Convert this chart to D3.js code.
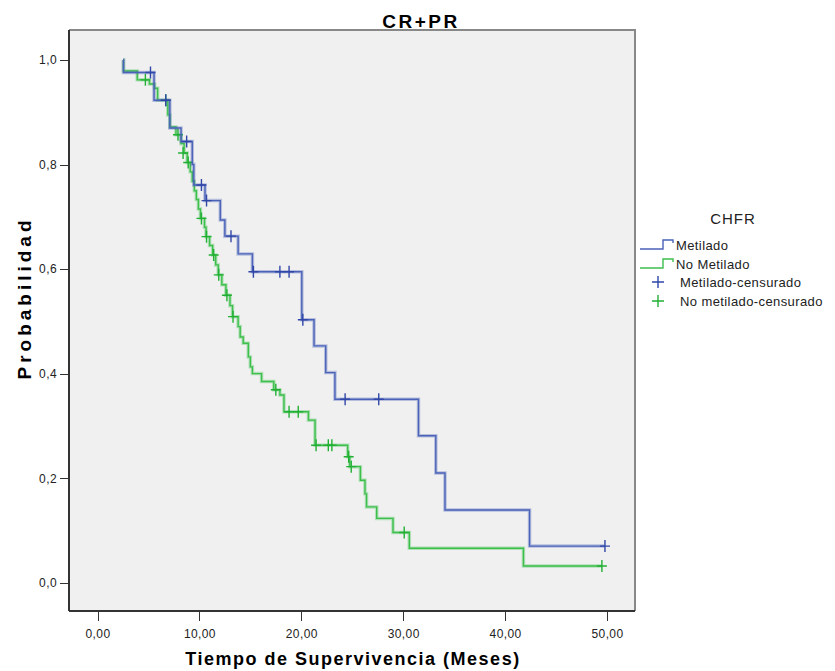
<!DOCTYPE html>
<html lang="es">
<head>
<meta charset="utf-8">
<title>CR+PR</title>
<script src="https://cdn.jsdelivr.net/npm/d3@7"></script>
<style>
  html, body { margin: 0; padding: 0; background: #fff; }
  text { font-family: "Liberation Sans", Arial, sans-serif; }
  .axis path, .axis line { stroke: #333; shape-rendering: crispEdges; }
  .axis text { font-size: 12px; fill: #222; letter-spacing: 0.4px; }
</style>
</head>
<body>
<script>
// tick labels
var xTicks = [0, 10, 20, 30, 40, 50];
var yTicks = [0, 0.2, 0.4, 0.6, 0.8, 1.0];

// Metilado: [tiempo, supervivencia tras el evento]
var metilado = [
  [2.5, 1.0], [2.55, 0.976], [5.55, 0.923], [7.1, 0.870], [8.2, 0.844],
  [9.3, 0.80], [9.45, 0.761], [10.55, 0.731], [12.05, 0.694], [12.5, 0.663],
  [13.8, 0.629], [15.2, 0.595], [20.05, 0.503], [21.25, 0.453], [22.4, 0.402],
  [23.3, 0.351], [31.5, 0.281], [33.2, 0.210], [34.1, 0.139], [42.4, 0.070],
  [49.8, 0.070]
];
var metiladoCens = [
  [5.2, 0.976], [6.7, 0.923], [8.75, 0.844], [10.2, 0.761], [10.7, 0.731],
  [13.1, 0.663], [15.3, 0.595], [17.9, 0.595], [18.8, 0.595], [20.15, 0.503],
  [24.3, 0.351], [27.6, 0.351], [49.8, 0.070]
];

// No Metilado
var noMetilado = [
  [2.5, 1.0], [2.55, 0.979], [3.9, 0.962], [5.1, 0.954], [5.6, 0.946],
  [5.9, 0.923], [6.9, 0.895], [7.1, 0.872], [7.7, 0.857], [8.2, 0.840],
  [8.5, 0.822], [8.8, 0.804], [9.1, 0.786], [9.3, 0.768], [9.5, 0.750],
  [9.7, 0.733], [9.9, 0.715], [10.1, 0.697], [10.5, 0.680], [10.65, 0.662],
  [11.0, 0.645], [11.3, 0.627], [11.6, 0.608], [11.85, 0.589], [12.2, 0.570],
  [12.6, 0.550], [13.0, 0.530], [13.25, 0.509], [13.8, 0.490], [14.0, 0.470],
  [14.3, 0.458], [14.8, 0.432], [15.0, 0.413], [15.2, 0.400], [16.1, 0.385],
  [17.3, 0.369], [17.9, 0.359], [18.3, 0.327], [20.7, 0.311], [21.35, 0.263],
  [24.55, 0.241], [24.75, 0.222], [25.8, 0.196], [26.25, 0.170], [26.4, 0.145],
  [27.4, 0.123], [29.0, 0.096], [30.6, 0.066], [41.8, 0.032], [49.5, 0.032]
];
var noMetiladoCens = [
  [4.7, 0.962], [6.7, 0.923], [7.9, 0.857], [8.4, 0.822], [8.9, 0.804],
  [10.2, 0.697], [10.7, 0.662], [11.4, 0.627], [11.9, 0.589], [12.7, 0.550],
  [13.3, 0.509], [17.5, 0.369], [18.8, 0.327], [19.7, 0.327], [21.45, 0.263],
  [22.65, 0.263], [23.0, 0.263], [24.65, 0.241], [24.9, 0.222], [30.1, 0.096],
  [49.5, 0.032]
];

var blue = "#4a62b8", blueDark = "#3047a8";
var green = "#3dbf4c", greenDark = "#22b034";

var W = 835, H = 671;
var frame = {left: 69, top: 30, right: 635, bottom: 611};

var x = d3.scaleLinear().domain([0, 50]).range([97.5, 607]);
var y = d3.scaleLinear().domain([0, 1]).range([582.7, 60]);

var fmt = function(d) { return d3.format(".2f")(d).replace(".", ","); };
var fmtY = function(d) { return d3.format(".1f")(d).replace(".", ","); };

var svg = d3.select("body").append("svg").attr("width", W).attr("height", H);

// plot frame
svg.append("rect")
  .attr("x", frame.left).attr("y", frame.top)
  .attr("width", frame.right - frame.left).attr("height", frame.bottom - frame.top)
  .attr("fill", "#f0f0f0");
svg.append("line").attr("x1", frame.left).attr("x2", frame.right + 1)
  .attr("y1", frame.top).attr("y2", frame.top)
  .attr("stroke", "#888").attr("stroke-width", 2);
svg.append("line").attr("x1", frame.right).attr("x2", frame.right)
  .attr("y1", frame.top).attr("y2", frame.bottom)
  .attr("stroke", "#888").attr("stroke-width", 2);

var xAxis = d3.axisBottom(x).tickValues(xTicks).tickFormat(fmt).tickSize(10).tickSizeOuter(0);
var yAxis = d3.axisLeft(y).tickValues(yTicks).tickFormat(fmtY).tickSize(9).tickSizeOuter(0);

var gx = svg.append("g").attr("class", "axis")
  .attr("transform", "translate(0," + frame.bottom + ")")
  .call(xAxis);
gx.select(".domain").attr("d", "M" + frame.left + ",0H" + frame.right).attr("stroke-width", 2);
gx.selectAll("text").attr("dy", "1.2em");

var gy = svg.append("g").attr("class", "axis")
  .attr("transform", "translate(" + frame.left + ",0)")
  .call(yAxis);
gy.select(".domain").attr("d", "M0," + frame.top + "V" + frame.bottom).attr("stroke-width", 2);
gy.selectAll("text").attr("x", -12);

// curves
var line = d3.line()
  .x(function(d) { return x(d[0]); })
  .y(function(d) { return y(d[1]); })
  .curve(d3.curveStepAfter);

function drawSeries(data, cens, col, colDark) {
  svg.append("path").attr("d", line(data))
    .attr("fill", "none").attr("stroke", col).attr("stroke-opacity", 0.35).attr("stroke-width", 3.5);
  svg.append("path").attr("d", line(data))
    .attr("fill", "none").attr("stroke", col).attr("stroke-width", 1.4);
  var g = svg.append("g");
  cens.forEach(function(c) {
    var cx = x(c[0]), cy = y(c[1]);
    g.append("path")
      .attr("d", "M" + (cx - 5) + "," + cy + "H" + (cx + 5) + "M" + cx + "," + (cy - 6) + "V" + (cy + 6))
      .attr("stroke", colDark).attr("stroke-width", 1.4).attr("fill", "none");
  });
}
drawSeries(noMetilado, noMetiladoCens, green, greenDark);
drawSeries(metilado, metiladoCens, blue, blueDark);

// titles
svg.append("text").attr("x", 421).attr("y", 28).attr("text-anchor", "middle")
  .style("font-size", "19px").style("font-weight", "bold").style("letter-spacing", "2.5px")
  .text("CR+PR");
svg.append("text").attr("x", 353).attr("y", 665).attr("text-anchor", "middle")
  .style("font-size", "18px").style("font-weight", "bold").style("letter-spacing", "1.5px")
  .text("Tiempo de Supervivencia (Meses)");
svg.append("text").attr("transform", "translate(31,298) rotate(-90)").attr("text-anchor", "middle")
  .style("font-size", "19px").style("font-weight", "bold").style("letter-spacing", "4px")
  .text("Probabilidad");

// legend
var legend = [
  {label: "Metilado", col: blue, type: "line"},
  {label: "No Metilado", col: green, type: "line"},
  {label: "Metilado-censurado", col: blueDark, type: "cens"},
  {label: "No metilado-censurado", col: greenDark, type: "cens"}
];
svg.append("text").attr("x", 733).attr("y", 224).attr("text-anchor", "middle")
  .style("font-size", "15px").style("fill", "#222").style("letter-spacing", "1px").text("CHFR");
var lg = svg.append("g");
legend.forEach(function(d, i) {
  var by = 249 + i * 19;
  if (d.type === "line") {
    lg.append("path").attr("d", "M640," + by + "H663V" + (by - 9) + "H673V" + (by - 6))
      .attr("fill", "none").attr("stroke", d.col).attr("stroke-width", 1.4);
    lg.append("text").attr("x", 676).attr("y", by + 1).style("font-size", "13px")
      .style("fill", "#222").style("letter-spacing", "0.4px").text(d.label);
  } else {
    lg.append("path").attr("d", "M652," + (by - 5) + "H664M658," + (by - 11) + "V" + (by + 1))
      .attr("fill", "none").attr("stroke", d.col).attr("stroke-width", 1.4);
    lg.append("text").attr("x", 680).attr("y", by).style("font-size", "13px")
      .style("fill", "#222").style("letter-spacing", "0.4px").text(d.label);
  }
});
</script>
</body>
</html>
